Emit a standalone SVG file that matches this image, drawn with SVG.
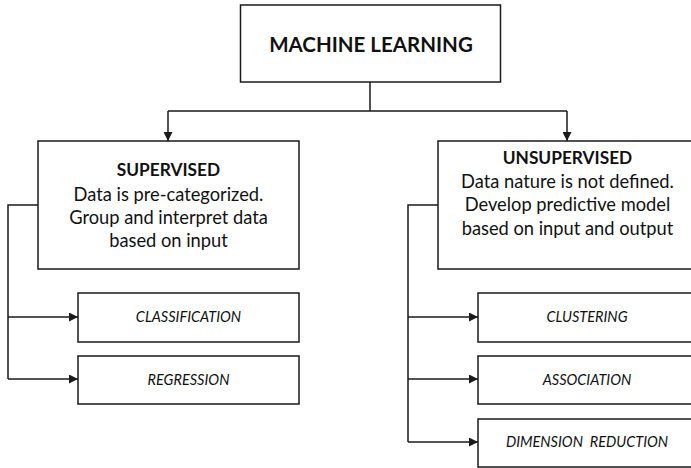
<svg xmlns="http://www.w3.org/2000/svg" width="691" height="468" viewBox="0 0 691 468">
  <defs>
    <marker id="arrow" markerUnits="userSpaceOnUse" markerWidth="10" markerHeight="9" refX="9" refY="4.5" orient="auto">
      <path d="M0,0 L9,4.5 L0,9 z" fill="#1a1a1a"/>
    </marker>
    <style>
      .box { fill: #ffffff; stroke: #1a1a1a; stroke-width: 1.5; }
      .wire { fill: none; stroke: #1a1a1a; stroke-width: 1.5; }
      text { font-family: "Lato", "Open Sans", "Liberation Sans", sans-serif; fill: #111111; text-anchor: middle; }
      .title { font-size: 20.5px; font-weight: bold; }
      .head { font-size: 17.3px; font-weight: bold; }
      .body { font-size: 18.3px; }
      .leaf { font-size: 14.5px; font-style: italic; white-space: pre; }
    </style>
  </defs>
  <rect width="691" height="468" fill="#ffffff"/>

  <!-- connectors -->
  <g id="connectors">
    <path class="wire" d="M370,82 V111 M168,111 H567"/>
    <path class="wire" d="M168,111 V141" marker-end="url(#arrow)"/>
    <path class="wire" d="M567,111 V141" marker-end="url(#arrow)"/>
    <path class="wire" d="M38,205 H8 V379"/>
    <path class="wire" d="M8,317 H78" marker-end="url(#arrow)"/>
    <path class="wire" d="M8,379 H78" marker-end="url(#arrow)"/>
    <path class="wire" d="M438,205 H408 V442"/>
    <path class="wire" d="M408,317 H478" marker-end="url(#arrow)"/>
    <path class="wire" d="M408,379 H478" marker-end="url(#arrow)"/>
    <path class="wire" d="M408,442 H478" marker-end="url(#arrow)"/>
  </g>

  <g id="machine-learning">
    <rect class="box" x="240.5" y="5" width="260" height="77"/>
    <text class="title" x="371" y="52">MACHINE LEARNING</text>
  </g>

  <g id="supervised">
    <rect class="box" x="38" y="141" width="261" height="128"/>
    <text class="head" x="168.5" y="176">SUPERVISED</text>
    <text class="body" x="168.5" y="200.5">Data is pre-categorized.</text>
    <text class="body" x="168.5" y="223.5">Group and interpret data</text>
    <text class="body" x="168.5" y="246.5">based on input</text>
  </g>

  <g id="unsupervised">
    <rect class="box" x="438" y="141" width="270" height="128"/>
    <text class="head" x="567.5" y="164">UNSUPERVISED</text>
    <text class="body" x="567.5" y="187.5">Data nature is not defined.</text>
    <text class="body" x="567.5" y="211">Develop predictive model</text>
    <text class="body" x="567.5" y="234.5">based on input and output</text>
  </g>

  <g id="classification">
    <rect class="box" x="78" y="293" width="221" height="49"/>
    <text class="leaf" x="188.5" y="322">CLASSIFICATION</text>
  </g>

  <g id="regression">
    <rect class="box" x="78" y="356" width="221" height="48"/>
    <text class="leaf" x="188.5" y="385">REGRESSION</text>
  </g>

  <g id="clustering">
    <rect class="box" x="478" y="293" width="230" height="49"/>
    <text class="leaf" x="587" y="322">CLUSTERING</text>
  </g>

  <g id="association">
    <rect class="box" x="478" y="356" width="230" height="48"/>
    <text class="leaf" x="587" y="385">ASSOCIATION</text>
  </g>

  <g id="dimension-reduction">
    <rect class="box" x="478" y="419" width="230" height="48"/>
    <text class="leaf" x="587" y="447" xml:space="preserve">DIMENSION  REDUCTION</text>
  </g>
</svg>
